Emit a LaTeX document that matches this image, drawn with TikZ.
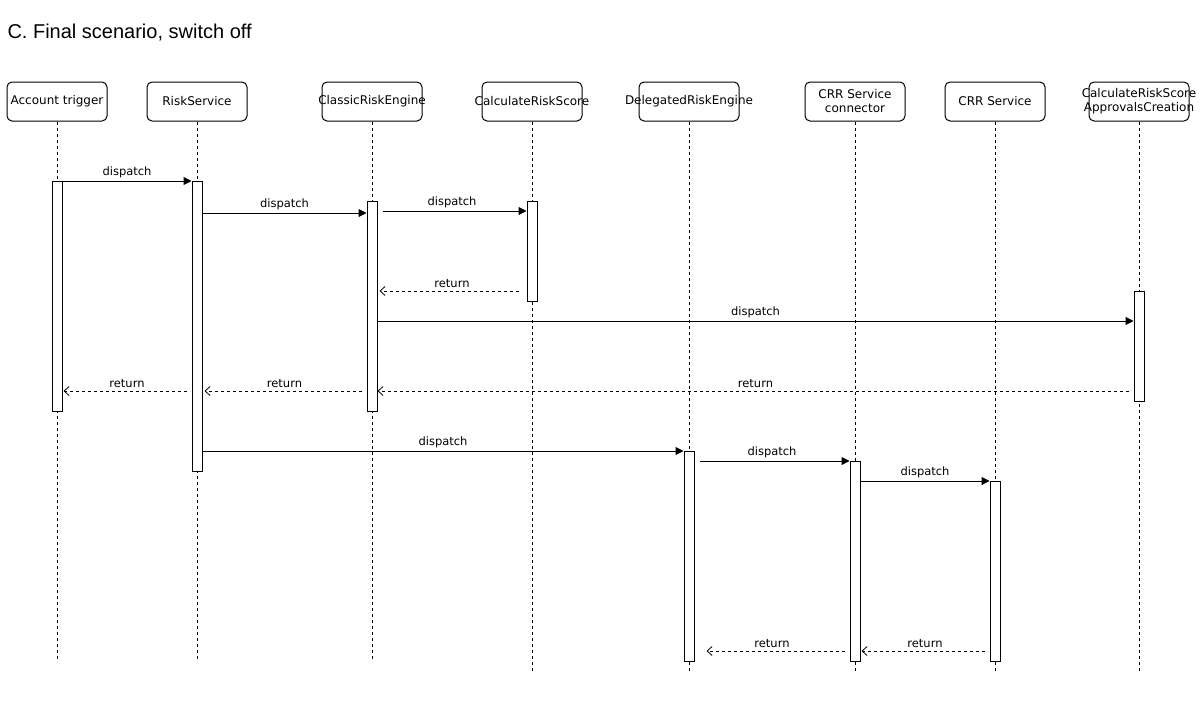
\documentclass[tikz,border=0pt]{standalone}
\usepackage{fontspec}
\setmainfont{DejaVu Sans}
\newfontfamily\titlefont{Liberation Sans}
\usetikzlibrary{arrows.meta}
\newcommand{\ctr}[1]{\makebox[0pt]{#1}}
\begin{document}
\begin{tikzpicture}[
    x=1pt, y=-1pt,
    head/.style={rectangle, draw, line width=1pt, rounded corners=5, fill=white, minimum width=100, minimum height=39, inner sep=0, align=center, font=\fontsize{12}{14}\selectfont},
    bar/.style={rectangle, draw, fill=white, minimum width=10, inner sep=0, line width=1pt},
    life/.style={dash pattern=on 3pt off 3pt, line width=0.8pt},
    msg/.style={-{Triangle[length=8pt,width=8pt]}, line width=1pt},
    ret/.style={-{Straight Barb[length=5pt,width=9pt]}, dash pattern=on 3pt off 3pt, line width=0.8pt},
    lbl/.style={font=\fontsize{11.5}{13}\selectfont, inner sep=2pt, above=1pt}
]
    \useasboundingbox (0,0) rectangle (1201,709);
    \node [anchor=base west, font=\titlefont\fontsize{20}{24}\selectfont] (title) at (4,38) {C. Final scenario, switch off};

    \node [head] (account) at (57,101.5) {\ctr{Account trigger}};
    \node [head] (risk_service) at (197,101.5) {\ctr{RiskService}};
    \node [head] (classic_engine) at (372,101.5) {\ctr{ClassicRiskEngine}};
    \node [head] (calc_score) at (532,101.5) {\ctr{CalculateRiskScore}};
    \node [head] (delegated_engine) at (689,101.5) {\ctr{DelegatedRiskEngine}};
    \node [head] (crr_connector) at (855,101.5) {\ctr{CRR Service}\\\ctr{connector}};
    \node [head] (crr_service) at (995,101.5) {\ctr{CRR Service}};
    \node [head] (approvals) at (1139,101.5) {\ctr{CalculateRiskScore}\\\ctr{ApprovalsCreation}};

    \draw [life] (account) -- (account |- 0,660);
    \draw [life] (risk_service) -- (risk_service |- 0,660);
    \draw [life] (classic_engine) -- (classic_engine |- 0,660);
    \draw [life] (calc_score) -- (calc_score |- 0,671);
    \draw [life] (delegated_engine) -- (delegated_engine |- 0,671);
    \draw [life] (crr_connector) -- (crr_connector |- 0,671);
    \draw [life] (crr_service) -- (crr_service |- 0,671);
    \draw [life] (approvals) -- (approvals |- 0,671);

    \node [bar, minimum height=230] (account_bar) at (57,296) {};
    \node [bar, minimum height=290] (risk_bar) at (197,326) {};
    \node [bar, minimum height=210] (classic_bar) at (372,306) {};
    \node [bar, minimum height=100] (calc_bar) at (532,251) {};
    \node [bar, minimum height=110] (approvals_bar) at (1139,346) {};
    \node [bar, minimum height=210] (delegated_bar) at (689,556) {};
    \node [bar, minimum height=200] (connector_bar) at (855,561) {};
    \node [bar, minimum height=180] (crr_bar) at (995,571) {};

    \draw [msg] (account_bar.east |- 0,181) -- node[lbl] {dispatch} (risk_bar.west |- 0,181);
    \draw [msg] (risk_bar.east |- 0,213) -- node[lbl] {dispatch} (classic_bar.west |- 0,213);
    \draw [msg, shorten <=5] (classic_bar.east |- 0,211) -- node[lbl] {dispatch} (calc_bar.west |- 0,211);
    \draw [ret, shorten <=8, shorten >=2] (calc_bar.west |- 0,291) -- node[lbl] {return} (classic_bar.east |- 0,291);
    \draw [msg] (classic_bar.east |- 0,321) -- node[lbl] {dispatch} (approvals_bar.west |- 0,321);
    \draw [ret, shorten <=5] (approvals_bar.west |- 0,391) -- node[lbl] {return} (classic_bar.east |- 0,391);
    \draw [ret, shorten <=5, shorten >=2] (classic_bar.west |- 0,391) -- node[lbl] {return} (risk_bar.east |- 0,391);
    \draw [ret, shorten <=5, shorten >=1] (risk_bar.west |- 0,391) -- node[lbl] {return} (account_bar.east |- 0,391);
    \draw [msg] (risk_bar.east |- 0,451) -- node[lbl] {dispatch} (delegated_bar.west |- 0,451);
    \draw [msg, shorten <=5] (delegated_bar.east |- 0,461) -- node[lbl] {dispatch} (connector_bar.west |- 0,461);
    \draw [msg] (connector_bar.east |- 0,481) -- node[lbl] {dispatch} (crr_bar.west |- 0,481);
    \draw [ret, shorten <=5, shorten >=12] (connector_bar.west |- 0,651) -- node[lbl] {return} (delegated_bar.east |- 0,651);
    \draw [ret, shorten <=5, shorten >=1] (crr_bar.west |- 0,651) -- node[lbl] {return} (connector_bar.east |- 0,651);
\end{tikzpicture}
\end{document}
